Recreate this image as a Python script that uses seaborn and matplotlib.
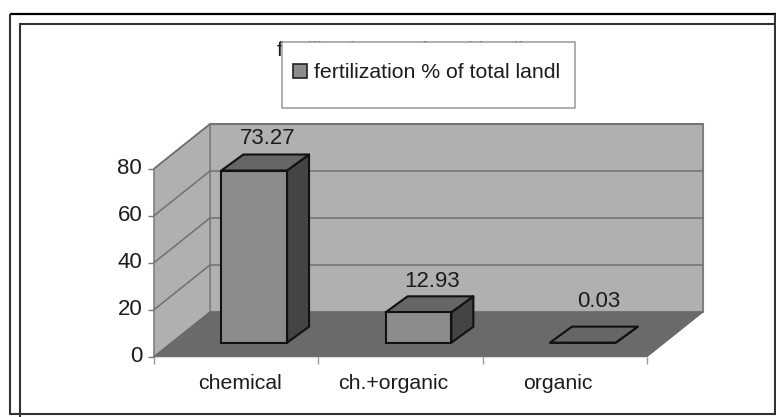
import matplotlib
matplotlib.use("Agg")
import matplotlib.pyplot as plt
from matplotlib.lines import Line2D
from matplotlib.patches import Patch, Polygon, Rectangle
import pandas as pd
import seaborn as sns

categories = ["chemical", "ch.+organic", "organic"]
values = [73.27, 12.93, 0.03]
value_labels = ["73.27", "12.93", "0.03"]
y_ticks = [0, 20, 40, 60, 80]
series_name = "fertilization % of total landl"

W, H = 776, 417
sns.set_theme(style="white")
plt.rcParams["font.family"] = ["Liberation Sans", "DejaVu Sans"]
FS = 15.3
FS_NUM = 16
INK = "#1c1c1c"
WALL, FLOOR, FRONT, SIDE, TOP = "#b0b0b0", "#6a6a6a", "#8c8c8c", "#444444", "#666666"
GRID = "#707070"

fig = plt.figure(figsize=(W / 100, H / 100), dpi=100, facecolor="white")


def fx(x):
    return x / W


def fy(y):
    return 1 - y / H


PLOT_W, PLOT_H = 493, 188
# front plane of the box: axis ticks and labels
front = fig.add_axes([fx(154), fy(356.7), PLOT_W / W, PLOT_H / H], zorder=1)
front.set_xlim(-0.5, 2.5)
front.set_ylim(0, 80)
front.patch.set_visible(False)
for s in front.spines.values():
    s.set_visible(False)
front.set_yticks(y_ticks)
front.set_xticks([0.025, 0.955, 1.955], categories)
front.set_xticks([-0.5, 0.5, 1.5, 2.5], minor=True)
front.tick_params(axis="y", length=4, width=1, color="#777777", left=True, pad=4.5,
                  labelsize=FS_NUM, labelcolor=INK)
for lab in front.get_yticklabels():
    lab.set_y(lab.get_position()[1])
    lab.set_verticalalignment("center")
front.tick_params(axis="x", which="minor", length=5, width=1, color="#999999", bottom=True)
front.tick_params(axis="x", which="major", length=0, pad=12.5, labelsize=FS, labelcolor=INK)

# plane of the bars' front faces
ax = fig.add_axes([fx(172), fy(342.7), PLOT_W / W, PLOT_H / H], zorder=2)
ax.patch.set_visible(False)
df = pd.DataFrame({"category": categories, "value": values})
sns.barplot(data=df, x="category", y="value", width=0.4, color=FRONT, saturation=1,
            edgecolor="#111111", linewidth=1.5, zorder=4, ax=ax)
ax.set_xlim(-0.5, 2.5)
ax.set_ylim(0, 80)
ax.axis("off")
for bar in ax.patches:
    bar.set_facecolor(FRONT)
    bar.set_clip_on(False)


def sh(x, y, px=0.0, py=0.0):
    """Shift a data point by a depth offset given in pixels."""
    return (x + px * 3 / PLOT_W, y + py / (PLOT_H / 80))


def poly(points, face, edge=None, lw=1.0, z=1.0):
    ax.add_patch(Polygon(points, closed=True, facecolor=face, edgecolor=edge or face,
                         linewidth=lw, zorder=z, clip_on=False, joinstyle="round"))


FRONT_D = (-18, -14)
BACK_D = (38, 30.7)
x0, x1 = ax.get_xlim()
top = y_ticks[-1]
poly([sh(x0, 0, *BACK_D), sh(x1, 0, *BACK_D), sh(x1, top, *BACK_D), sh(x0, top, *BACK_D)],
     WALL, "#808080", 1.5, 1)
poly([sh(x0, 0, *FRONT_D), sh(x0, 0, *BACK_D), sh(x0, top, *BACK_D), sh(x0, top, *FRONT_D)],
     WALL, "#808080", 1.2, 1.1)
poly([sh(x0, 0, *FRONT_D), sh(x1, 0, *FRONT_D), sh(x1, 0, *BACK_D), sh(x0, 0, *BACK_D)],
     FLOOR, FLOOR, 0.8, 1.2)
for t in y_ticks[1:-1] + [top]:
    a, b, c = sh(x0, t, *FRONT_D), sh(x0, t, *BACK_D), sh(x1, t, *BACK_D)
    ax.plot([a[0], b[0], c[0]], [a[1], b[1], c[1]], color=GRID, lw=1.1, zorder=1.15,
            clip_on=False)

BAR_D = (22, 16)
label_adjust = [(13.5, 16), (14, 15), (16, 25)]
for bar, text, (lx, ly) in zip(ax.patches, value_labels, label_adjust):
    l, r = bar.get_x(), bar.get_x() + bar.get_width()
    v = bar.get_height()
    poly([sh(r, 0), sh(r, 0, *BAR_D), sh(r, v, *BAR_D), sh(r, v)], SIDE, "#111111", 1.5, 3)
    poly([sh(l, v), sh(r, v), sh(r, v, *BAR_D), sh(l, v, *BAR_D)], TOP, "#111111", 1.5, 3)
    ax.annotate(text, (bar.get_x() + bar.get_width() / 2, v), xytext=(lx * 0.72, (BAR_D[1] + ly) * 0.72),
                textcoords="offset points", ha="center", va="center", fontsize=FS_NUM,
                color=INK, annotation_clip=False, zorder=6)

# title, almost wholly hidden behind the legend box
fig.text(fx(400), fy(41), series_name, ha="center", va="top", fontsize=FS, color=INK, zorder=5)
fig.add_artist(Rectangle((fx(282), fy(108)), 293 / W, 66 / H, transform=fig.transFigure,
                         facecolor="white", edgecolor="#999999", linewidth=1.1, zorder=6))
leg = fig.legend(handles=[Patch(facecolor=FRONT, edgecolor="#222222", linewidth=1.2, label=series_name)],
                 loc="center left", bbox_to_anchor=(fx(293), fy(73)), frameon=False,
                 fontsize=FS, labelcolor=INK, handlelength=0.67, handleheight=0.67,
                 handletextpad=0.33, borderpad=0, borderaxespad=0)
leg.set_zorder(7)


def line(xs, ys, color="#333333", lw=1.5):
    fig.add_artist(Line2D([fx(v) for v in xs], [fy(v) for v in ys], color=color, lw=lw,
                          transform=fig.transFigure, zorder=8, solid_capstyle="butt"))


line([9.5, 775.5], [14, 14], "#000000", 1.6)
line([10, 10], [14, 414.5])
line([9.5, 775.5], [414, 414])
line([19.5, 19.5], [23.5, 417])
line([19, 776], [24, 24])
line([774.5, 774.5], [14, 414.5])

fig.savefig("out.png", dpi=100)
